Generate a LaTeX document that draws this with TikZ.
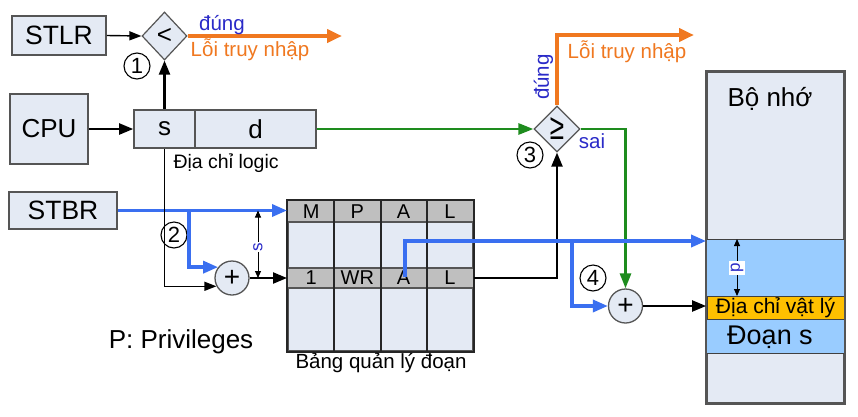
\documentclass[tikz,border=0pt]{standalone}
\usepackage{fontspec}
\setmainfont{Liberation Sans}
\usetikzlibrary{shapes.geometric,arrows.meta,calc}
\definecolor{boxfill}{HTML}{E4EAF4}
\definecolor{boxline}{HTML}{555555}
\definecolor{lblue}{HTML}{3A6FF0}
\definecolor{dgreen}{HTML}{1E8C1E}
\definecolor{orng}{HTML}{F07820}
\definecolor{txtblue}{HTML}{2A2AC8}
\definecolor{band}{HTML}{99CCFF}
\definecolor{physc}{HTML}{FFC000}
\definecolor{cellgray}{HTML}{BFBFBF}
\begin{document}
\begin{tikzpicture}[x=1pt,y=-1pt,
  fnt/.style={font=\fontsize{#1}{#1}\selectfont},
  box/.style={draw=boxline, fill=boxfill, line width=1.6pt, inner sep=0pt, text=black},
  dia/.style={diamond, draw=boxline, fill=boxfill, line width=1.2pt, inner sep=0pt},
  num/.style={circle, draw=black, line width=1.1pt, minimum size=26pt, inner sep=0pt, fnt=22},
  plusc/.style={circle, draw=boxline, fill=boxfill, line width=1.3pt, minimum size=34pt, inner sep=0pt, fnt=28},
  blk/.style={draw=black, line width=2.2pt, -{Triangle[length=14pt,width=11pt]}},
  thinblk/.style={draw=black, line width=1.4pt, -{Triangle[length=12pt,width=9pt]}},
  blu/.style={draw=lblue, line width=3.4pt, -{Triangle[length=15pt,width=12pt]}},
  grn/.style={draw=dgreen, line width=2.8pt, -{Triangle[length=15pt,width=11pt]}},
  org/.style={draw=orng, line width=4pt, -{Triangle[length=15pt,width=13pt]}},
  dim/.style={draw=black, line width=0.9pt, {Triangle[length=7pt,width=6pt]}-{Triangle[length=7pt,width=6pt]}},
  cell/.style={inner sep=0pt, fnt=20, text=black}
]
\useasboundingbox (0,0) rectangle (858,416);
\fill[white] (0,0) rectangle (858,416);

% boxes
\node[box, minimum width=94pt, minimum height=39pt, fnt=26.5] (stlr) at (59,35.5) {STLR};
\node[box, minimum width=78pt, minimum height=70pt, fnt=26] (cpu) at (49,129) {CPU};
\node[box, minimum width=108pt, minimum height=37pt, fnt=26.5] (stbr) at (63,210.5) {STBR};
\node[box, minimum width=61pt, minimum height=38pt, fnt=26] (ls) at (164.5,129) {s};
\node[box, minimum width=121pt, minimum height=38pt, fnt=26] (ld) at (255.5,129) {d};
\node[fnt=19.5, anchor=west] (lab) at (170,163) {Địa chỉ logic};

% diamonds
\node[dia, minimum width=45pt, minimum height=48pt, fnt=26] (d1) at (164.5,36) {<};
\node[dia, minimum width=46pt, minimum height=46pt, fnt=26] (d3) at (557,129) {\scalebox{1}[1.4]{≥}};

% number circles
\node[num] (c1) at (137,66) {1};
\node[num] (c2) at (174,235) {2};
\node[num] (c3) at (530,155) {3};
\node[num] (c4) at (593,278) {4};

% plus circles
\node[plusc] (p2) at (232,278) {+};
\node[plusc] (p4) at (625.5,306) {+};

% table
\node[draw=boxline, fill=boxfill, line width=2pt, minimum width=185pt, minimum height=150pt, inner sep=0pt] (tbl) at (380.5,276) {};
\fill[cellgray] (288,201) rectangle (473,222);
\fill[cellgray] (288,268) rectangle (473,288);
\draw[boxline, line width=2pt] (288,222) -- (473,222) (288,268) -- (473,268) (288,288) -- (473,288);
\foreach \xx in {334.25,380.5,426.75} \draw[black!85, line width=2pt] (\xx,201) -- (\xx,351);
\draw[black!85, line width=2pt] (tbl.north west) rectangle (tbl.south east);
\node[cell] (hm) at (311.1,211.5) {M};
\node[cell] (hp) at (357.4,211.5) {P};
\node[cell] (ha) at (403.6,211.5) {A};
\node[cell] (hl) at (449.9,211.5) {L};
\node[cell] (r1) at (311.1,278) {1};
\node[cell] (rw) at (357.4,278) {WR};
\node[cell] (ra) at (403.6,278) {A};
\node[cell] (rl) at (449.9,278) {L};
\node[fnt=20.5] (tlab) at (381,363) {Bảng quản lý đoạn};
\node[fnt=26] (priv) at (181,342) {P: Privileges};

% memory
\node[draw=boxline, fill=boxfill, line width=1.8pt, minimum width=137pt, minimum height=331pt, inner sep=0pt] (mem) at (775.5,237.5) {};
\fill[band] (707,239) rectangle (844,353);
\draw[black!75, line width=1pt] (707,239) -- (844,239) (707,353) -- (844,353);
\node[draw=black!75, fill=physc, line width=1pt, minimum width=137pt, minimum height=23pt, inner sep=0pt, fnt=21] (phys) at (775.5,307.5) {Địa chỉ vật lý};
\node[fnt=27] (seg) at (770,337) {Đoạn s};
\node[fnt=26] (memlab) at (770,99) {Bộ nhớ};
\draw[boxline, line width=1.8pt] (mem.north west) rectangle (mem.south east);

% connectors
\draw[thinblk] (stlr.east) -- (d1.west);
\draw[blk] (ls.north) -- (d1.south);
\coordinate (o1) at (342,36);
\draw[org] (d1.east) -- (o1);
\node[fnt=20.5, text=txtblue] (t1) at (222,25) {đúng};
\node[fnt=20.5, text=orng] (e1) at (250,50) {Lỗi truy nhập};

\draw[blk] (cpu.east) -- (ls.west);
\draw[grn] (ld.east) -- (d3.west);
\coordinate (o3a) at (557,35);
\coordinate (o3) at (694,35);
\draw[org] (d3.north) -- (o3a) -- (o3);
\node[fnt=20.5, text=txtblue, rotate=90] (t3) at (543.5,77) {đúng};
\node[fnt=20.5, text=orng] (e3) at (627,52) {Lỗi truy nhập};
\node[fnt=20.5, text=txtblue] (s3) at (592,141) {sai};
\coordinate (g1) at (625.5,129);
\draw[grn] (d3.east) -- (g1) -- (p4.north);

\draw[blu] (stbr.east) -- (stbr.east -| tbl.west);
\coordinate (b2) at (189,210.5);
\draw[blu] (b2) |- (p2.142);
\draw[thinblk] (ls.south) |- (p2.208);
\draw[blk] (p2.east) -- (p2.east -| tbl.west);
\coordinate (sd1) at (258,210.5);
\coordinate (sd2) at (258,278);
\draw[dim] (sd1) -- (sd2);
\node[fnt=17, text=txtblue, fill=white, inner sep=1pt, rotate=90] (slab) at (258,247) {s};

\coordinate (k1) at (557,278);
\draw[blk] (tbl.east |- rl) -- (k1) -- (d3.south);

\coordinate (a1) at (405,277);
\coordinate (a2) at (405,241);
\draw[blu] (a1) -- (a2) -- (a2 -| mem.west);
\coordinate (b4) at (572,241);
\draw[blu] (b4) |- (p4.west);
\draw[blk] (p4.east) -- (p4.east -| mem.west);

\coordinate (pd1) at (737,239);
\coordinate (pd2) at (737,296);
\draw[dim] (pd1) -- (pd2);
\node[fnt=17, text=txtblue, fill=white, inner sep=2pt, rotate=90] (plab) at (737,268) {p};
\end{tikzpicture}
\end{document}
